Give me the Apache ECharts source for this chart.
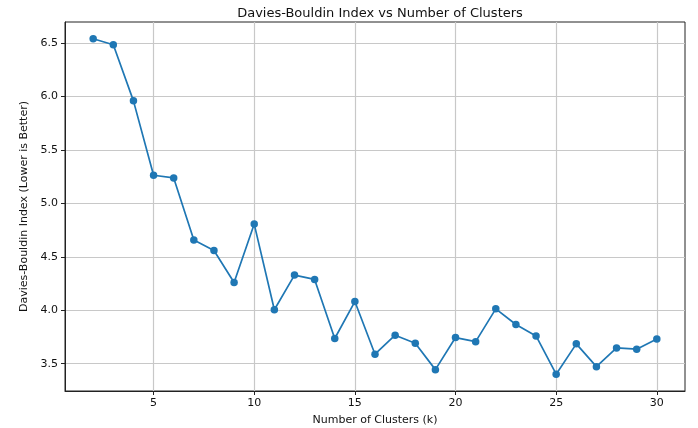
<!DOCTYPE html>
<html>
<head>
<meta charset="utf-8">
<script src="https://cdn.jsdelivr.net/npm/echarts@6/dist/echarts.min.js"></script>
<style>
  html, body { margin: 0; padding: 0; background: #fff; }
  #chart { width: 698px; height: 428px; }
</style>
</head>
<body>
<div id="chart"></div>
<script>
const clusters = [2, 3, 4, 5, 6, 7, 8, 9, 10, 11, 12, 13, 14, 15, 16,
  17, 18, 19, 20, 21, 22, 23, 24, 25, 26, 27, 28, 29, 30];
const dbIndex = [6.54, 6.484, 5.959, 5.263, 5.238, 4.656, 4.559, 4.259, 4.806, 4.004,
  4.329, 4.288, 3.735, 4.081, 3.588, 3.766, 3.691, 3.444, 3.744, 3.706,
  4.013, 3.866, 3.759, 3.401, 3.685, 3.472, 3.647, 3.635, 3.731];
const xTicks = [5, 10, 15, 20, 25, 30];
const yTicks = [3.5, 4.0, 4.5, 5.0, 5.5, 6.0, 6.5];

const font = "DejaVu Sans";
const chart = echarts.init(document.getElementById("chart"));

const option = {
  animation: false,
  title: {
    text: "Davies-Bouldin Index vs Number of Clusters",
    left: 375,
    textAlign: "center",
    top: 2,
    textStyle: { fontFamily: font, fontSize: 13, fontWeight: "normal", color: "#111" },
  },
  grid: {
    left: 65,
    right: 13,
    top: 22,
    bottom: 37,
    outerBoundsMode: "none",
    show: true,
    borderColor: "#222",
    borderWidth: 1,
  },
  xAxis: {
    type: "value",
    min: 0.6,
    max: 31.4,
    name: "Number of Clusters (k)",
    nameLocation: "middle",
    nameGap: 24,
    nameTextStyle: { fontFamily: font, fontSize: 11, color: "#111" },
    axisLine: { show: true, onZero: false, lineStyle: { color: "#222" } },
    axisTick: { show: true, length: 4, customValues: xTicks, lineStyle: { color: "#222" } },
    axisLabel: { customValues: xTicks, fontFamily: font, fontSize: 11, color: "#111", margin: 7 },
    splitLine: { show: true, lineStyle: { color: "#c8c8c8", width: 1.2 } },
  },
  yAxis: {
    type: "value",
    min: 3.244,
    max: 6.697,
    name: "Davies-Bouldin Index (Lower is Better)",
    nameLocation: "middle",
    nameGap: 27,
    nameTextStyle: { fontFamily: font, fontSize: 11, color: "#111" },
    axisLine: { show: true, lineStyle: { color: "#222" } },
    axisTick: { show: true, length: 4, customValues: yTicks, lineStyle: { color: "#222" } },
    axisLabel: {
      customValues: yTicks,
      fontFamily: font,
      fontSize: 11,
      color: "#111",
      margin: 7,
      formatter: (v) => v.toFixed(1),
    },
    splitLine: { show: true, lineStyle: { color: "#c8c8c8", width: 1.2 } },
  },
  series: [
    {
      type: "line",
      data: clusters.map((k, i) => [k, dbIndex[i]]),
      symbol: "circle",
      symbolSize: 7.5,
      color: "#1f77b4",
      lineStyle: { width: 1.7 },
      itemStyle: { color: "#1f77b4" },
    },
  ],
};
chart.setOption(option);
</script>
</body>
</html>
